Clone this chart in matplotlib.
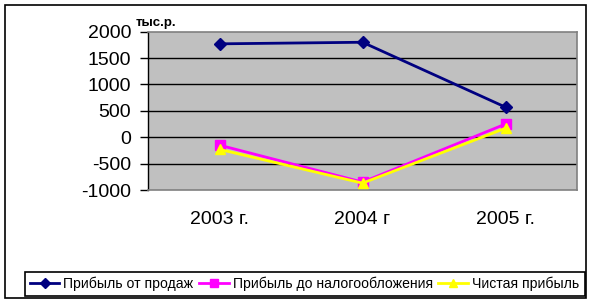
import matplotlib
matplotlib.use("Agg")
import matplotlib.pyplot as plt
from matplotlib.patches import Rectangle

plt.rcParams['font.family'] = ['Liberation Sans', 'DejaVu Sans']

categories = ["2003 г.", "2004 г", "2005 г."]
sales_profit = [1770, 1800, 570]
pretax_profit = [-150, -850, 250]
net_profit = [-230, -870, 170]
series_names = ["Прибыль от продаж", "Прибыль до налогообложения", "Чистая прибыль"]
y_ticks = [-1000, -500, 0, 500, 1000, 1500, 2000]
unit_label = "тыс.р."

W, H = 592, 305
fig = plt.figure(figsize=(W / 100, H / 100), dpi=100)

def fx(px):
    return px / W

def fy(py):
    return 1 - py / H

# outer border
fig.patches.append(Rectangle((fx(5), fy(298)), fx(586) - fx(5), fy(5) - fy(298),
                             transform=fig.transFigure, fill=False, edgecolor='black', lw=1.2))

left, right, top, bottom = 148, 577, 31.7, 190
ax = fig.add_axes([fx(left), fy(bottom), fx(right) - fx(left), fy(top) - fy(bottom)])
ax.set_facecolor('#c0c0c0')

x = list(range(len(categories)))
ax.plot(x, sales_profit, color='#000080', lw=2, marker='D', ms=6.5, label=series_names[0], zorder=3)
ax.plot(x, pretax_profit, color='#ff00ff', lw=2, marker='s', ms=7, label=series_names[1], zorder=3)
ax.plot(x, net_profit, color='#ffff00', lw=2, marker='^', ms=7.5, label=series_names[2], zorder=4)

ax.set_xlim(-0.5, len(categories) - 0.5)
ax.set_ylim(-1000, 2000)
ax.set_yticks(y_ticks)
ax.set_yticklabels([str(v) for v in y_ticks], fontsize=14)
ax.set_xticks(x)
ax.set_xticklabels(categories, fontsize=14)
ax.tick_params(axis='x', length=0, pad=15)
ax.tick_params(axis='y', length=6, width=1, direction='out', pad=6)
for v in y_ticks[1:-1]:
    ax.axhline(v, color='black', lw=1, zorder=1)
for s in ['top', 'right', 'bottom']:
    ax.spines[s].set_color('#808080')
    ax.spines[s].set_linewidth(1.2)
ax.spines['left'].set_color('black')
ax.spines['left'].set_linewidth(1)

fig.text(fx(136), fy(26), unit_label, fontsize=9.5, fontweight='bold', va='baseline', ha='left')

# legend
fig.patches.append(Rectangle((fx(25), fy(296)), fx(585) - fx(25), fy(272) - fy(296),
                             transform=fig.transFigure, fill=False, edgecolor='black', lw=1.2))
leg = fig.legend(loc='center left', bbox_to_anchor=(fx(30), fy(284)), ncol=3, frameon=False,
                 fontsize=10.1, handlelength=2.1, handletextpad=0.28, columnspacing=0.4,
                 borderaxespad=0, borderpad=0, markerscale=0.75)

fig.savefig("out.png", dpi=100)
